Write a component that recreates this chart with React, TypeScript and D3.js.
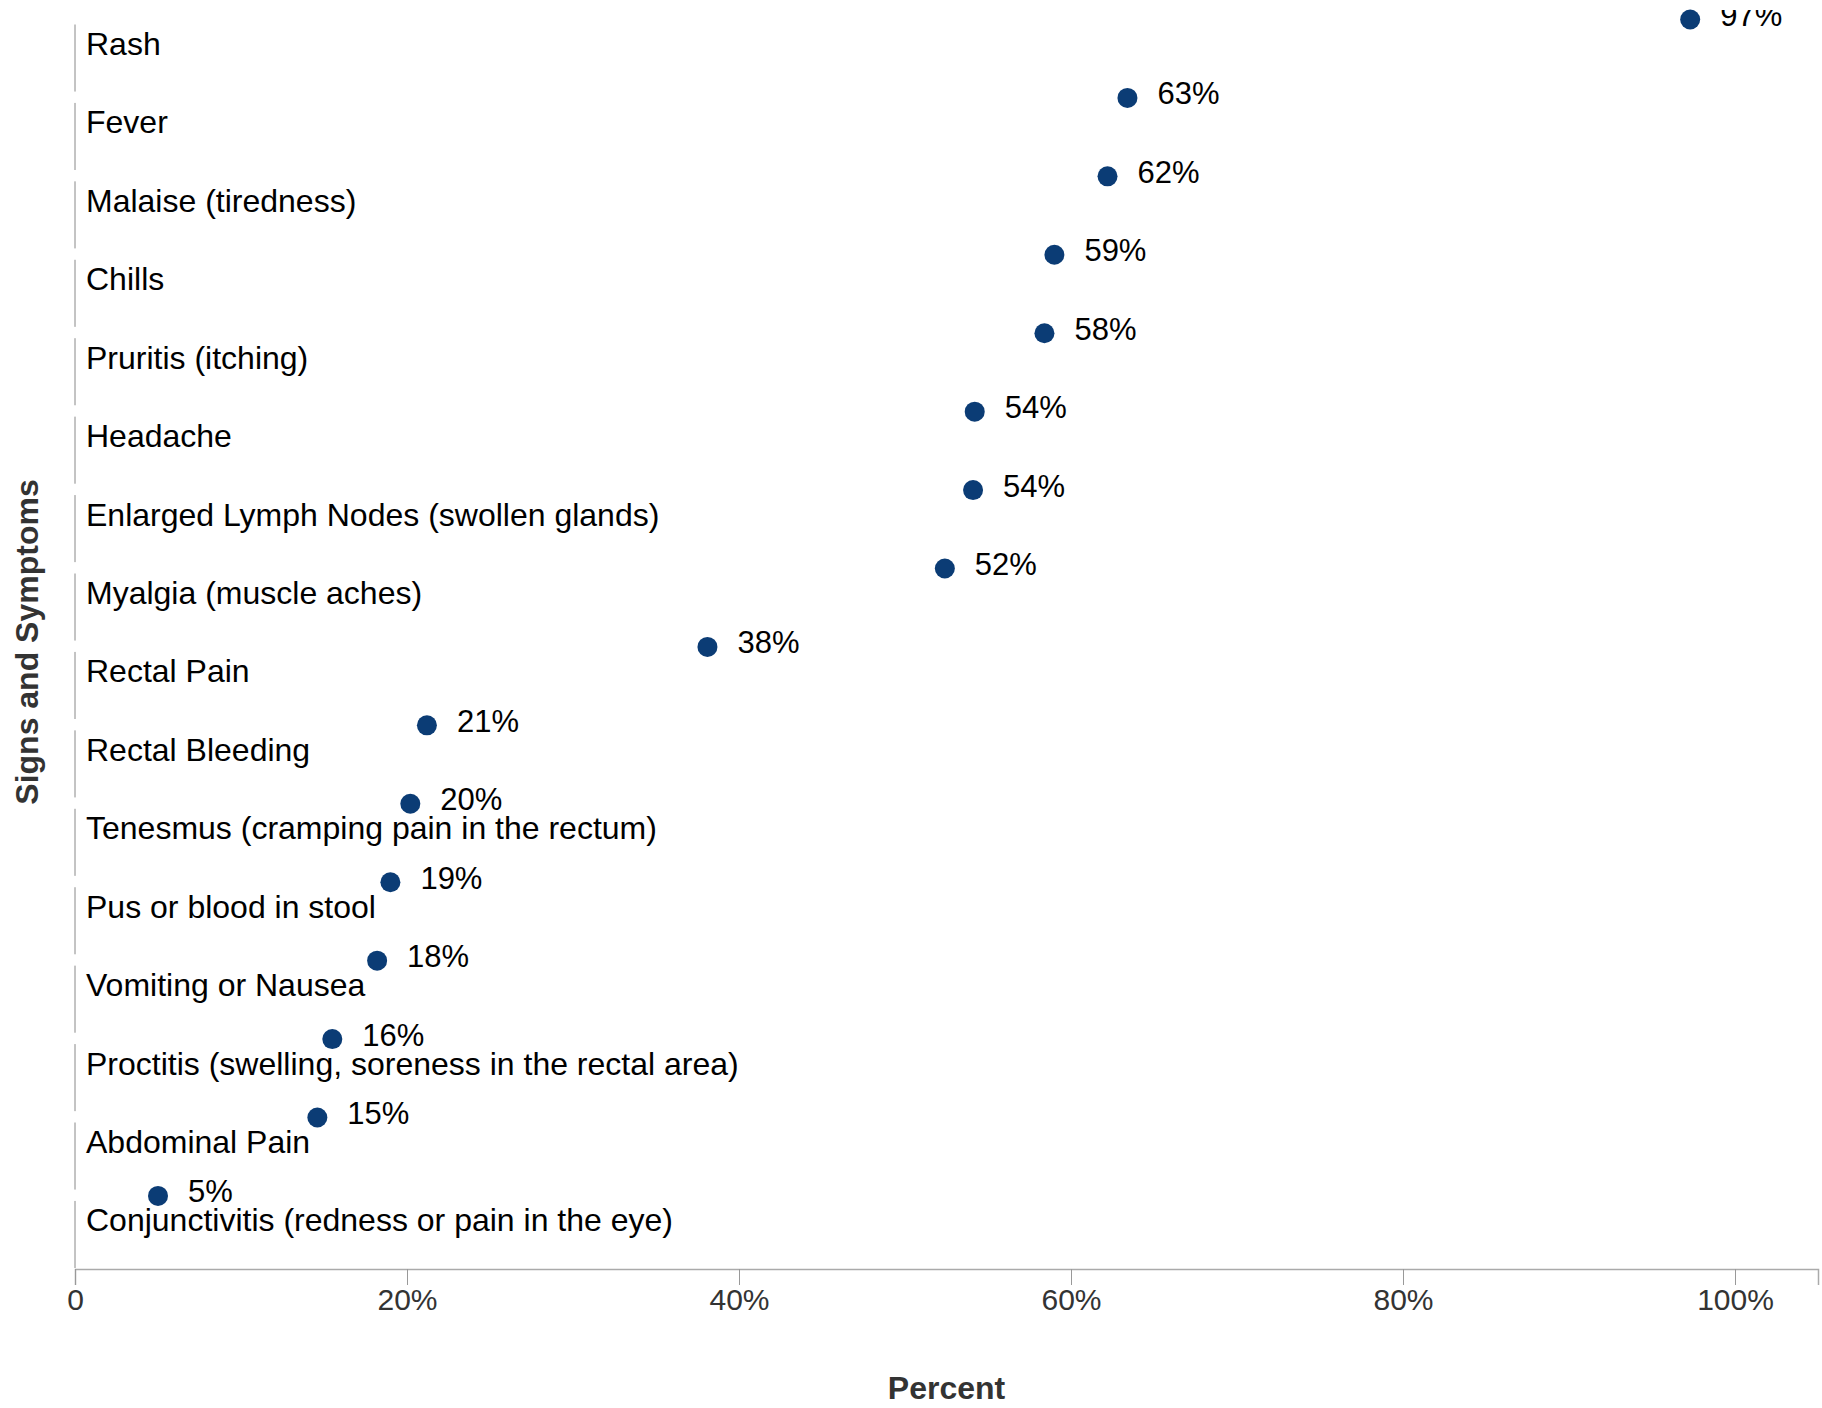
import React, { useEffect, useRef } from 'react';
import * as d3 from 'd3';

// data
const symptoms = [
  'Rash',
  'Fever',
  'Malaise (tiredness)',
  'Chills',
  'Pruritis (itching)',
  'Headache',
  'Enlarged Lymph Nodes (swollen glands)',
  'Myalgia (muscle aches)',
  'Rectal Pain',
  'Rectal Bleeding',
  'Tenesmus (cramping pain in the rectum)',
  'Pus or blood in stool',
  'Vomiting or Nausea',
  'Proctitis (swelling, soreness in the rectal area)',
  'Abdominal Pain',
  'Conjunctivitis (redness or pain in the eye)',
];
const percents = [0.973, 0.634, 0.622, 0.59, 0.584, 0.542, 0.541, 0.524, 0.381, 0.212, 0.202, 0.19, 0.182, 0.155, 0.146, 0.05];
const xTicks = [0, 0.2, 0.4, 0.6, 0.8, 1.0];

const W = 1822;
const H = 1408;
const FONT = '"Liberation Sans", Arial, Helvetica, sans-serif';

const App: React.FC = () => {
  const svgRef = useRef<SVGSVGElement>(null);

  useEffect(() => {
    if (!svgRef.current) return;
    const svg = d3.select(svgRef.current);
    svg.selectAll('*').remove();

    const x = d3.scaleLinear().domain([0, 1.05]).range([75, 1818]);
    const y = d3.scaleBand<string>().domain(symptoms).range([24.5, 1268]).paddingInner(0.145).paddingOuter(0);

    const rows = symptoms.map((s, i) => ({ name: s, value: percents[i] }));

    svg.append('defs').append('clipPath').attr('id', 'topclip')
      .append('rect').attr('x', 0).attr('y', 10).attr('width', W).attr('height', H);

    // y axis drawn as one segment per band
    svg.append('g').selectAll('line')
      .data(rows)
      .enter()
      .append('line')
      .attr('x1', x(0)).attr('x2', x(0))
      .attr('y1', (d) => y(d.name)!)
      .attr('y2', (d) => y(d.name)! + y.bandwidth())
      .attr('stroke', '#888')
      .attr('stroke-width', 1);

    // category labels
    svg.append('g').selectAll('text')
      .data(rows)
      .enter()
      .append('text')
      .attr('x', 86)
      .attr('y', (d) => y(d.name)! + 30.5)
      .attr('font-family', FONT)
      .attr('font-size', 32)
      .attr('fill', '#000')
      .text((d) => d.name);

    // x axis
    const xAxis = d3.axisBottom(x)
      .tickValues(xTicks)
      .tickSize(16)
      .tickPadding(4)
      .tickFormat((d: any) => (d === 0 ? '0' : d3.format('.0%')(d)));

    const gx = svg.append('g').attr('transform', 'translate(0,1269)').call(xAxis as any);
    gx.select('.domain').attr('stroke', '#aaa').attr('stroke-width', 1.5);
    gx.selectAll('.tick line').attr('stroke', '#999');
    gx.selectAll('.tick text')
      .attr('font-family', FONT)
      .attr('font-size', 30)
      .attr('fill', '#333');

    // dots
    svg.append('g').selectAll('circle')
      .data(rows)
      .enter()
      .append('circle')
      .attr('cx', (d) => x(d.value))
      .attr('cy', (d) => y(d.name)! - 5)
      .attr('r', 10)
      .attr('fill', '#0b3c75');

    // value labels
    svg.append('g').attr('clip-path', 'url(#topclip)').selectAll('text')
      .data(rows)
      .enter()
      .append('text')
      .attr('x', (d) => x(d.value) + 30)
      .attr('y', (d) => y(d.name)! + 1.5)
      .attr('font-family', FONT)
      .attr('font-size', 31)
      .attr('fill', '#000')
      .text((d) => d3.format('.0%')(d.value));

    // titles
    svg.append('text')
      .attr('x', (x.range()[0] + x.range()[1]) / 2)
      .attr('y', 1399)
      .attr('text-anchor', 'middle')
      .attr('font-family', FONT)
      .attr('font-size', 32)
      .attr('font-weight', 'bold')
      .attr('fill', '#333')
      .text('Percent');

    svg.append('text')
      .attr('transform', 'translate(38,642) rotate(-90)')
      .attr('text-anchor', 'middle')
      .attr('font-family', FONT)
      .attr('font-size', 32)
      .attr('font-weight', 'bold')
      .attr('fill', '#333')
      .text('Signs and Symptoms');
  }, []);

  return (
    <svg
      ref={svgRef}
      width={W}
      height={H}
      style={{ position: 'absolute', left: 0, top: 0, background: '#fff' }}
    />
  );
};

export default App;
